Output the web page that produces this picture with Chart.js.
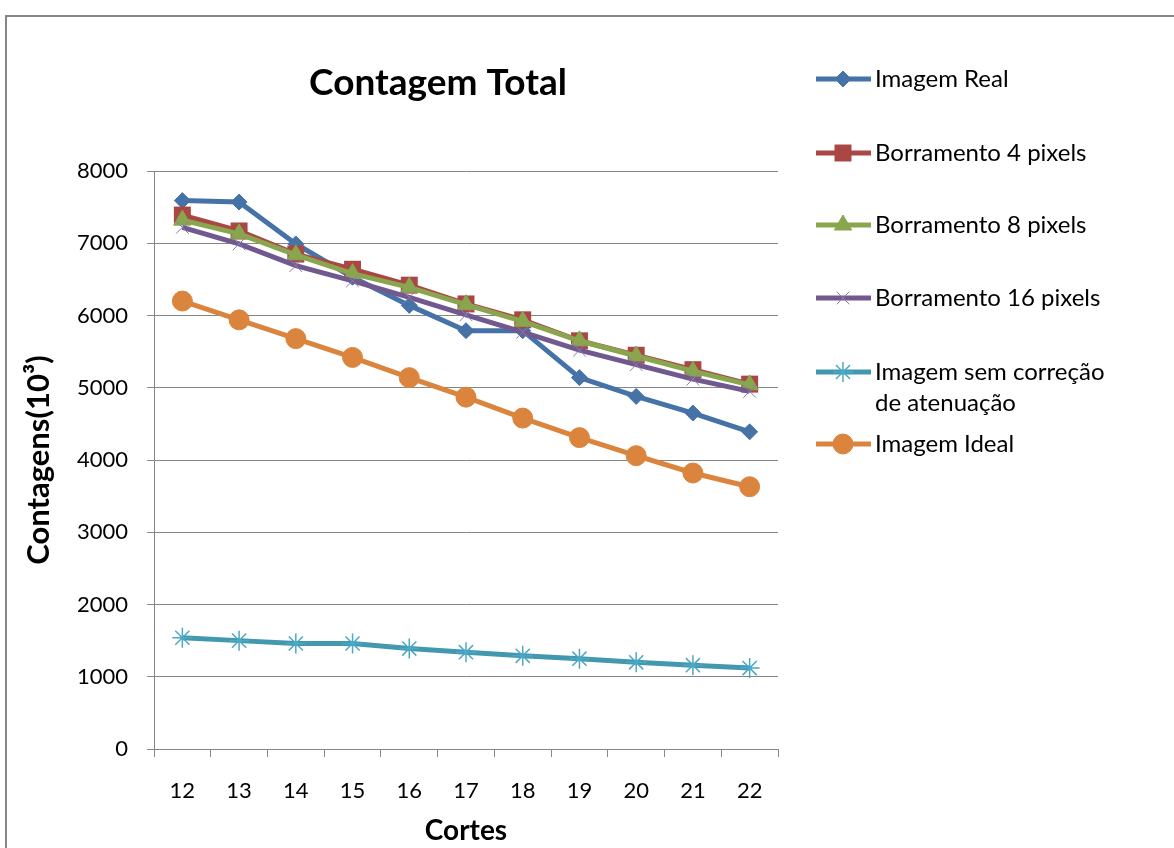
<!DOCTYPE html>
<html>
<head>
<meta charset="utf-8">
<script src="https://cdn.jsdelivr.net/npm/chart.js@4.4.0/dist/chart.umd.min.js"></script>
<style>
  html, body { margin: 0; padding: 0; background: #fff; }
  #wrap { width: 1174px; height: 848px; position: relative; }
</style>
</head>
<body>
<div id="wrap"><canvas id="chart" width="1174" height="848"></canvas></div>
<script>
// chart values
const cortes = ['12', '13', '14', '15', '16', '17', '18', '19', '20', '21', '22'];
const imagemReal = [7590, 7570, 6990, 6530, 6140, 5790, 5790, 5140, 4880, 4650, 4390];
const borramento4 = [7390, 7170, 6850, 6640, 6420, 6160, 5940, 5650, 5450, 5250, 5050];
const borramento8 = [7320, 7130, 6840, 6580, 6390, 6150, 5920, 5650, 5440, 5230, 5040];
const borramento16 = [7220, 6990, 6690, 6480, 6250, 6010, 5770, 5520, 5320, 5120, 4950];
const semCorrecao = [1540, 1500, 1460, 1460, 1390, 1340, 1290, 1250, 1200, 1160, 1120];
const imagemIdeal = [6200, 5940, 5680, 5420, 5140, 4870, 4580, 4310, 4060, 3820, 3630];
const seriesNames = [
    ['Imagem Real'],
    ['Borramento 4 pixels'],
    ['Borramento 8 pixels'],
    ['Borramento 16 pixels'],
    ['Imagem sem correção', 'de atenuação'],
    ['Imagem Ideal']
];
const yMin = 0, yMax = 8000, yStep = 1000;

const FONT = 'Lato, "Open Sans", sans-serif';
const gridGray = '#868686';

function serie(i, data, line, point, style, radius, bw) {
    return {
        label: seriesNames[i].join(' '),
        data: data,
        borderColor: line,
        backgroundColor: point,
        borderWidth: 5,
        pointStyle: style,
        pointRadius: radius,
        pointHoverRadius: radius,
        pointBackgroundColor: point,
        pointBorderColor: point,
        pointBorderWidth: bw,
        tension: 0,
        order: 10 - i
    };
}

const datasets = [
    serie(0, imagemReal, '#4572A7', '#4572A7', 'rectRot', 8, 1),
    serie(1, borramento4, '#AA4643', '#AA4643', 'rect', 12, 0),
    serie(2, borramento8, '#89A54E', '#89A54E', 'triangle', 10, 1),
    serie(3, borramento16, '#71588F', '#8D7BB0', 'crossRot', 9, 1),
    serie(4, semCorrecao, '#4198AF', '#4CA8C3', 'star', 10, 1.5),
    serie(5, imagemIdeal, '#DB843D', '#DB843D', 'circle', 10, 1)
];

// frame, title and legend drawn on the canvas
const decor = {
    id: 'decor',
    beforeDraw(chart) {
        const ctx = chart.ctx;
        ctx.save();
        ctx.strokeStyle = gridGray;
        ctx.lineWidth = 2;
        ctx.strokeRect(6, 16, 1200, 900);
        ctx.restore();
    },
    afterDraw(chart) {
        const ctx = chart.ctx;
        ctx.save();
        ctx.fillStyle = '#000';
        ctx.font = 'bold 37px ' + FONT;
        ctx.textAlign = 'center';
        ctx.textBaseline = 'middle';
        ctx.fillText('Contagem Total', 438, 83);

        const rows = [79, 153, 225, 298, 372, 444];
        ctx.textAlign = 'left';
        ctx.font = '24px ' + FONT;
        chart.data.datasets.forEach((ds, i) => {
            const y = rows[i];
            ctx.strokeStyle = ds.borderColor;
            ctx.lineWidth = 5;
            ctx.beginPath();
            ctx.moveTo(816, y);
            ctx.lineTo(871, y);
            ctx.stroke();
            ctx.fillStyle = ds.pointBackgroundColor;
            ctx.strokeStyle = ds.pointBorderColor;
            ctx.lineWidth = ds.pointBorderWidth;
            Chart.helpers.drawPoint(ctx, {
                pointStyle: ds.pointStyle,
                radius: ds.pointRadius,
                borderWidth: ds.pointBorderWidth,
                rotation: 0
            }, 843, y);
            ctx.fillStyle = '#000';
            seriesNames[i].forEach((t, k) => ctx.fillText(t, 875, y + k * 31));
        });
        ctx.restore();
    }
};

new Chart(document.getElementById('chart'), {
    type: 'line',
    data: { labels: cortes, datasets: datasets },
    plugins: [decor],
    options: {
        responsive: false,
        animation: false,
        devicePixelRatio: 1,
        layout: { padding: { left: 0, top: 171, right: 396, bottom: 0 } },
        plugins: {
            legend: { display: false },
            title: { display: false },
            tooltip: { enabled: false }
        },
        scales: {
            x: {
                type: 'category',
                offset: true,
                afterFit(scale) { scale.height = 99; },
                grid: { offset: true, drawOnChartArea: false, drawTicks: true, tickLength: 8, color: gridGray },
                border: { display: true, color: gridGray, width: 1 },
                ticks: { color: '#000', font: { family: FONT, size: 22 }, padding: 21, maxRotation: 0 },
                title: { display: true, text: 'Cortes', color: '#000',
                         font: { family: FONT, size: 28, weight: 'bold' }, padding: { top: 0, bottom: 0 } }
            },
            y: {
                min: yMin,
                max: yMax,
                afterFit(scale) { scale.width = 154; },
                grid: { color: gridGray, lineWidth: 1, drawTicks: true, tickLength: 7 },
                border: { display: true, color: gridGray, width: 1 },
                ticks: { stepSize: yStep, color: '#000', font: { family: FONT, size: 22 }, padding: 19,
                         callback: v => String(v) },
                title: { display: true, text: 'Contagens(10³)', color: '#000',
                         font: { family: FONT, size: 31, weight: 'bold' }, padding: { top: 20, bottom: 0 } }
            }
        }
    }
});
</script>
</body>
</html>
